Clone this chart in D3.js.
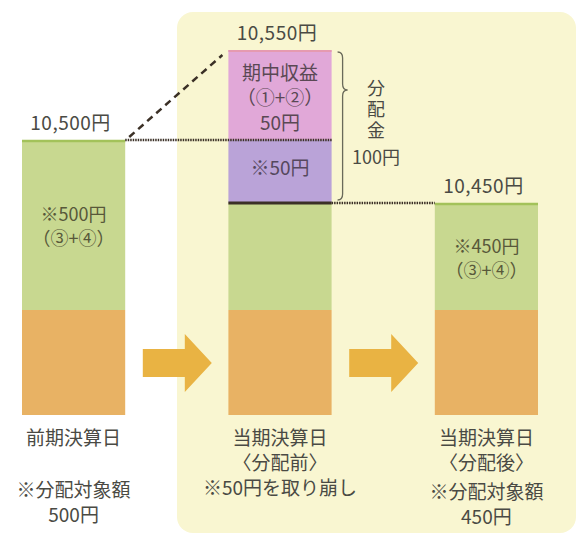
<!DOCTYPE html>
<html>
<head>
<meta charset="utf-8">
<script src="https://cdn.jsdelivr.net/npm/d3@7"></script>
<style>
  html, body { margin: 0; padding: 0; background: #fff; }
  svg { display: block; }
  text { font-family: "Noto Sans CJK JP", "Noto Sans", sans-serif; fill: #4a4a44; }
</style>
</head>
<body>
<svg id="chart" width="580" height="536"></svg>
<script>

// --- data ---
var columns = ['prev', 'before', 'after'];
var totals = [10500, 10550, 10450];          // 基準価額
var principal = 10000;                        // 元本部分（オレンジ）
var targetAmounts = [500, 450, 450];          // 分配対象額（緑）
var incomeDuring = 50;                        // 期中収益 ①+②
var drawdown = 50;                            // 取り崩し
var bottomLabels = [
    ['前期決算日', '※分配対象額', '500円'],
    ['当期決算日', '〈分配前〉', '※50円を取り崩し'],
    ['当期決算日', '〈分配後〉', '※分配対象額', '450円']
];
var greenLabels = [['※500円', '（③+④）'], null, ['※450円', '（③+④）']];
var pinkLabels = ['期中収益', '（①+②）', incomeDuring + '円'];
var purpleLabels = ['※' + drawdown + '円'];
var distLabel = '分配金';
var distTotal = incomeDuring + drawdown;

var colors = {
    base: '#e8b264',
    target: '#c8d890',
    targetTop: '#a3c25a',
    income: '#e1a8d8',
    drawdown: '#baa3d8',
    panel: '#f9f6d1',
    arrow: '#e9b343',
    line: '#3b3026'
};

var svg = d3.select('#chart');

var x = d3.scaleBand()
    .domain(columns)
    .range([22, 538])
    .paddingInner(0.5)
    .paddingOuter(0);

// not to scale in the original, so piecewise levels
var y = d3.scaleLinear()
    .domain([0, principal, totals[2], totals[0], totals[1]])
    .range([415, 310, 203, 140, 50]);

var bw = x.bandwidth();
var cx = function (c) { return x(c) + bw / 2; };
var yen = function (v) { return d3.format(',')(v) + '円'; };

// one <text> per block, one tspan per line
function multiline(lines, px, py, steps, size, fill) {
    var t = svg.append('text')
        .attr('x', px).attr('y', py)
        .style('text-anchor', 'middle')
        .style('font-size', size + 'px');
    if (fill) t.style('fill', fill);
    t.selectAll('tspan')
        .data(lines)
      .enter().append('tspan')
        .attr('x', px)
        .attr('dy', function (d, k) { return k === 0 ? 0 : (Array.isArray(steps) ? steps[k - 1] : steps); })
        .text(function (d) { return d; });
    return t;
}

// panel behind the current period
svg.append('rect')
    .attr('x', 177).attr('y', 12)
    .attr('width', 399).attr('height', 521)
    .attr('rx', 16)
    .style('fill', colors.panel);

// build segments
var segments = [];
columns.forEach(function (c, i) {
    segments.push({col: c, from: 0, to: principal, kind: 'base'});
    segments.push({col: c, from: principal, to: principal + targetAmounts[i], kind: 'target'});
});
segments.push({col: 'before', from: totals[0] - drawdown, to: totals[0], kind: 'drawdown'});
segments.push({col: 'before', from: totals[0], to: totals[0] + incomeDuring, kind: 'income'});

svg.selectAll('.seg')
    .data(segments)
  .enter().append('rect')
    .attr('class', 'seg')
    .attr('x', function (d) { return x(d.col); })
    .attr('y', function (d) { return y(d.to); })
    .attr('width', bw)
    .attr('height', function (d) { return y(d.from) - y(d.to); })
    .style('fill', function (d) { return colors[d.kind]; });

// green top edge on left / right bars
svg.selectAll('.top-edge')
    .data(['prev', 'after'])
  .enter().append('line')
    .attr('class', 'top-edge')
    .attr('x1', function (c) { return x(c); })
    .attr('x2', function (c) { return x(c) + bw; })
    .attr('y1', function (c, i) { return y(principal + targetAmounts[i * 2]) + 1; })
    .attr('y2', function (c, i) { return y(principal + targetAmounts[i * 2]) + 1; })
    .style('stroke', colors.targetTop)
    .style('stroke-width', 2.5);

// pink top edge
svg.append('line')
    .attr('x1', x('before')).attr('x2', x('before') + bw)
    .attr('y1', y(totals[1]) + 1).attr('y2', y(totals[1]) + 1)
    .style('stroke', '#e59ab0').style('stroke-width', 2);

// dotted level of previous NAV
svg.append('line')
    .attr('x1', x('prev') + bw).attr('x2', x('before') + bw)
    .attr('y1', y(totals[0])).attr('y2', y(totals[0]))
    .style('stroke', colors.line).style('stroke-width', 2.5)
    .style('stroke-dasharray', '1.5,1');

// after-distribution level: solid across middle bar, dotted to right bar
svg.append('line')
    .attr('x1', x('before')).attr('x2', x('before') + bw)
    .attr('y1', y(totals[2])).attr('y2', y(totals[2]))
    .style('stroke', colors.line).style('stroke-width', 3);
svg.append('line')
    .attr('x1', x('before') + bw).attr('x2', x('after'))
    .attr('y1', y(totals[2])).attr('y2', y(totals[2]))
    .style('stroke', colors.line).style('stroke-width', 2.5)
    .style('stroke-dasharray', '1.5,1');

// dashed rise from previous NAV to current NAV
svg.append('line')
    .attr('x1', x('prev') + bw + 4).attr('y1', y(totals[0]) - 3)
    .attr('x2', x('before') - 6).attr('y2', y(totals[1]) + 5)
    .style('stroke', colors.line).style('stroke-width', 2.5)
    .style('stroke-dasharray', '7,5');

// NAV labels above bars
svg.selectAll('.nav-label')
    .data(columns)
  .enter().append('text')
    .attr('class', 'nav-label')
    .attr('x', function (c) { return cx(c) - 3; })
    .attr('y', function (c, i) { return y(totals[i]) - 10; })
    .style('text-anchor', 'middle')
    .style('font-size', '19px')
    .style('letter-spacing', '0.5px')
    .text(function (c, i) { return yen(totals[i]); });

// labels in green segments
columns.forEach(function (c, i) {
    if (!greenLabels[i]) return;
    var mid = (y(principal) + y(principal + targetAmounts[i])) / 2;
    multiline(greenLabels[i], cx(c), mid - 4, 24, 18, '#58583a');
});

// pink labels
var pinkMid = (y(totals[0]) + y(totals[1])) / 2;
multiline(pinkLabels, cx('before'), pinkMid - 15, 25, 19, '#5a4854');

// purple label
multiline(purpleLabels, cx('before'), (y(totals[0]) + y(totals[2])) / 2 + 3, 0, 19, '#55485e');

// brace for distribution
var bx = x('before') + bw + 6;
var bTop = y(totals[1]) + 2, bBot = y(totals[2]) - 3, bTip = 90;
svg.append('path')
    .attr('d', 'M' + bx + ',' + bTop +
        ' Q' + (bx + 5) + ',' + bTop + ' ' + (bx + 5) + ',' + (bTop + 6) +
        ' L' + (bx + 5) + ',' + (bTip - 6) +
        ' Q' + (bx + 5) + ',' + bTip + ' ' + (bx + 10) + ',' + bTip +
        ' Q' + (bx + 5) + ',' + bTip + ' ' + (bx + 5) + ',' + (bTip + 6) +
        ' L' + (bx + 5) + ',' + (bBot - 6) +
        ' Q' + (bx + 5) + ',' + bBot + ' ' + bx + ',' + bBot)
    .style('fill', 'none')
    .style('stroke', '#6a6a5a')
    .style('stroke-width', 1.3);

// vertical 分配金
svg.append('text')
    .attr('x', 376)
    .attr('y', 79)
    .style('writing-mode', 'vertical-rl')
    .style('text-orientation', 'upright')
    .style('font-size', '18px')
    .style('letter-spacing', '3px')
    .text(distLabel);

svg.append('text')
    .attr('x', 376)
    .attr('y', 164)
    .style('text-anchor', 'middle')
    .style('font-size', '18px')
    .text(yen(distTotal));

// arrows between bars
var gaps = [
    (x('prev') + bw + x('before')) / 2,
    (x('before') + bw + x('after')) / 2
];
var ay = 363;
svg.selectAll('.arrow')
    .data(gaps)
  .enter().append('path')
    .attr('class', 'arrow')
    .attr('d', function (g) {
        var l = g - 34, r = g + 35, h = g + 8;
        return 'M' + l + ',' + (ay - 14) + ' L' + h + ',' + (ay - 14) +
            ' L' + h + ',' + (ay - 29) + ' L' + r + ',' + ay +
            ' L' + h + ',' + (ay + 29) + ' L' + h + ',' + (ay + 14) +
            ' L' + l + ',' + (ay + 14) + ' Z';
    })
    .style('fill', colors.arrow);

// bottom labels
var lineSteps = [
    [52, 25],
    [25, 25],
    [25, 29, 25]
];
columns.forEach(function (c, i) {
    multiline(bottomLabels[i], cx(c), 445, lineSteps[i], 19);
});

</script>
</body>
</html>
